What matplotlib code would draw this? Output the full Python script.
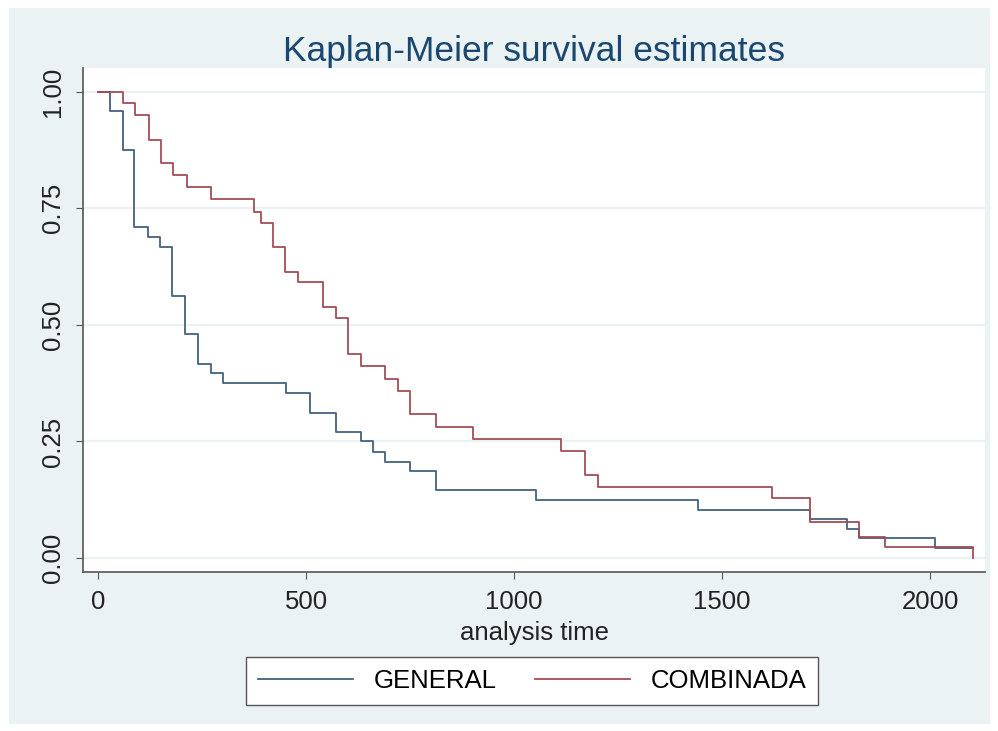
import matplotlib
matplotlib.use("Agg")
import matplotlib.pyplot as plt
from matplotlib.patches import Rectangle

plt.rcParams['font.family'] = ['Liberation Sans', 'DejaVu Sans']

# Kaplan-Meier step values
general_t = [0, 30, 59, 87, 121, 149, 179, 209, 240, 271, 301, 451, 510, 572, 632, 660,
             690, 750, 812, 1053, 1441, 1712, 1800, 1830, 2012, 2103]
general_s = [1.0, 0.958, 0.875, 0.709, 0.689, 0.668, 0.561, 0.480, 0.416, 0.396, 0.375,
             0.353, 0.312, 0.270, 0.250, 0.228, 0.207, 0.186, 0.146, 0.124, 0.104, 0.083,
             0.062, 0.042, 0.021, 0.021]

combinada_t = [0, 59, 89, 123, 152, 181, 213, 271, 375, 393, 420, 450, 481, 542, 572, 602,
               632, 690, 722, 751, 812, 902, 1112, 1171, 1203, 1621, 1712, 1830, 1892, 2103]
combinada_s = [1.0, 0.976, 0.951, 0.897, 0.847, 0.822, 0.795, 0.770, 0.743, 0.718, 0.667,
               0.614, 0.591, 0.538, 0.514, 0.438, 0.411, 0.383, 0.359, 0.308, 0.282, 0.256,
               0.230, 0.178, 0.153, 0.128, 0.077, 0.045, 0.024, 0.0]

labels = ["GENERAL", "COMBINADA"]
colors = ["#43627e", "#a24d56"]
x_ticks = [0, 500, 1000, 1500, 2000]
y_ticks = [0.0, 0.25, 0.5, 0.75, 1.0]

W, H = 998, 731
fig = plt.figure(figsize=(W / 100, H / 100), dpi=100, facecolor="white")
# light blue graph region
bg = Rectangle((9 / W, 7 / H), 981 / W, 716 / H, transform=fig.transFigure,
               facecolor="#eaf2f3", edgecolor="none", zorder=-5)
fig.add_artist(bg)

ax = fig.add_axes([83 / W, (H - 572) / H, (985 - 83) / W, (572 - 68) / H])
ax.set_facecolor("white")

ax.step(general_t, general_s, where="post", color=colors[0], lw=1.3, label=labels[0])
ax.step(combinada_t, combinada_s, where="post", color=colors[1], lw=1.3, label=labels[1])

ax.set_xlim(-36, 2132)
ax.set_ylim(-0.03, 1.051)
ax.set_xticks(x_ticks)
ax.set_yticks(y_ticks)
ax.set_yticklabels(["0.00", "0.25", "0.50", "0.75", "1.00"], rotation=90, va="center")
ax.grid(axis="y", color="#eaf2f3", lw=1.6)
ax.set_axisbelow(True)

for s in ["top", "right"]:
    ax.spines[s].set_visible(False)
for s in ["left", "bottom"]:
    ax.spines[s].set_color("#555555")
    ax.spines[s].set_linewidth(1.2)
ax.tick_params(colors="#555555", labelcolor="#222222", labelsize=18.5, length=5, width=0.8)
ax.tick_params(axis="x", pad=8)
ax.tick_params(axis="y", pad=8)

ax.set_title("Kaplan-Meier survival estimates", fontsize=25.5, color="#1a476f", pad=5)
ax.set_xlabel("analysis time", fontsize=18.5, color="#222222", labelpad=5)

leg = fig.legend(loc="center", bbox_to_anchor=(532 / W, (H - 681) / H), ncol=2,
                 fontsize=18.5, frameon=True, fancybox=False, handlelength=3.7,
                 columnspacing=1.5, borderpad=0.45, handletextpad=0.8, framealpha=1,
                 borderaxespad=0)
leg.get_frame().set_edgecolor("#555555")
leg.get_frame().set_facecolor("white")
leg.get_frame().set_linewidth(1.0)

fig.savefig("out.png", dpi=100, facecolor="white")
